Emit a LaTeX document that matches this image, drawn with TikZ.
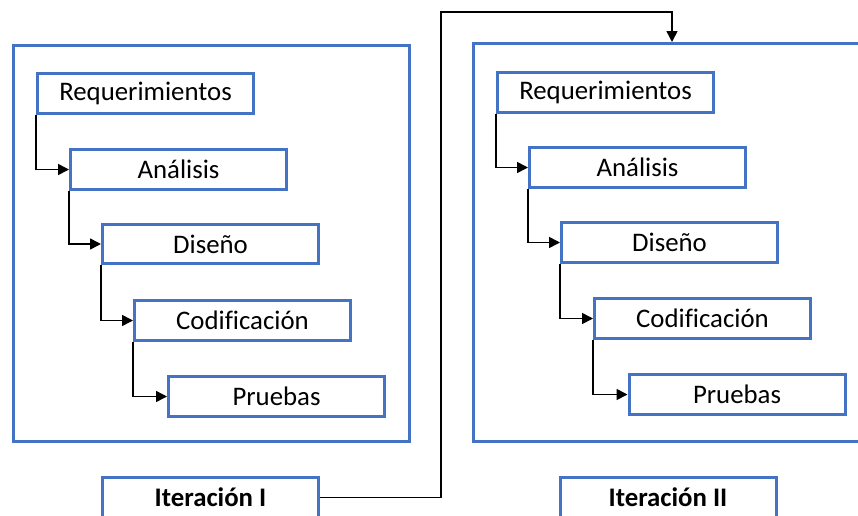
\documentclass[tikz,border=0pt]{standalone}
\usepackage{fontspec}
\setmainfont{Carlito}[Ligatures=NoCommon]
\usetikzlibrary{arrows.meta}
\definecolor{officeblue}{HTML}{4472C4}
\tikzset{
  stage/.style={draw=officeblue, line width=3pt, fill=white, inner sep=0pt,
    minimum width=216pt, minimum height=39.5pt, font=\fontsize{26.8}{31}\selectfont},
  label box/.style={stage, font=\fontsize{26.8}{31}\selectfont\bfseries},
  frame/.style={draw=officeblue, line width=3pt, inner sep=0pt},
  flow/.style={draw=black, line width=1.6pt, -{Triangle[length=11pt, width=11pt]}},
}
\begin{document}
\begin{tikzpicture}[x=1pt, y=-1pt]
\useasboundingbox (0,0) rectangle (858,515);
\clip (0,0) rectangle (858,515);

% iteration frames
\node[frame, minimum width=396pt, minimum height=396pt] (f1) at (211,243.5) {};
\node[frame, minimum width=427pt, minimum height=397.5pt] (f2) at (687,242.25) {};

% first iteration
\node[stage] (r1) at (145.5,93.5)  {Requerimientos};
\node[stage] (a1) at (178.5,169.5) {Análisis};
\node[stage] (d1) at (210.5,244)   {Diseño};
\node[stage] (c1) at (242.5,320.5) {Codificación};
\node[stage] (p1) at (276.5,396.5) {Pruebas};
\node[label box] (it1) at (210.5,497.5) {Iteración I};

% second iteration
\node[stage] (r2) at (605.5,92.5)  {Requerimientos};
\node[stage] (a2) at (637.5,167.5) {Análisis};
\node[stage] (d2) at (669.5,242.5) {Diseño};
\node[stage] (c2) at (702.5,318.5) {Codificación};
\node[stage] (p2) at (737,394.5)   {Pruebas};
\node[label box] (it2) at (668,497.5) {Iteración II};

% cascade connectors
\foreach \a/\b in {r1/a1, a1/d1, d1/c1, c1/p1, r2/a2, a2/d2, d2/c2, c2/p2}
  \draw[flow] (\a.south west) |- (\b.west);

% hand-over from the first iteration to the second
\coordinate (riseTop) at (441,12);
\coordinate (dropTop) at (672,12);
\draw[flow] (it1.east) -| (riseTop) -- (dropTop) -- (f2.north -| dropTop);
\end{tikzpicture}
\end{document}
